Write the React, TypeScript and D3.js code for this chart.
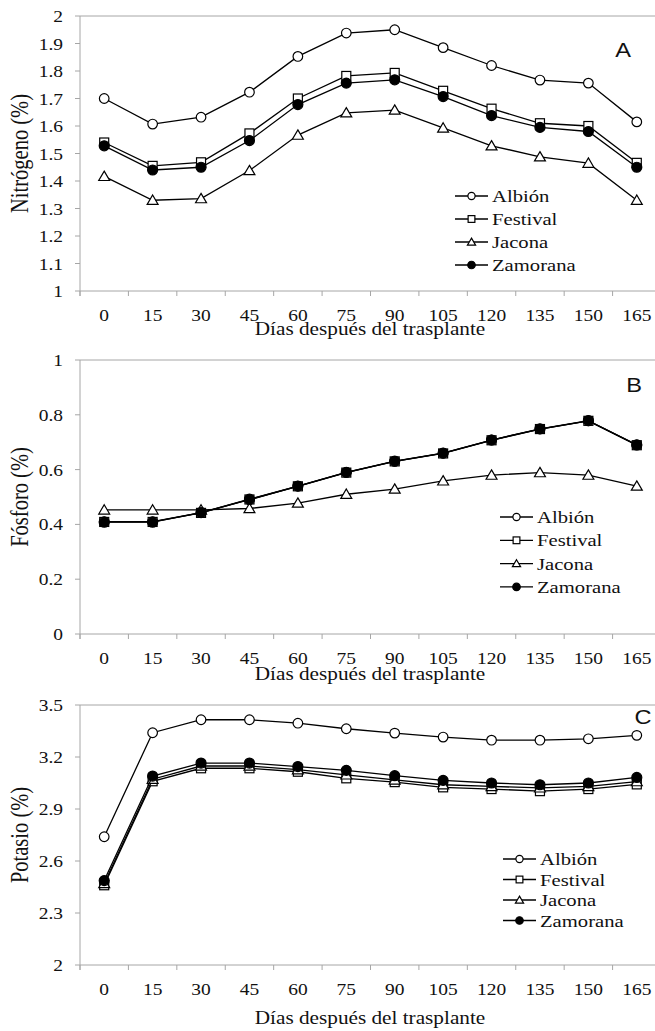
import * as d3 from 'd3'

// días después del trasplante
const dias = ['0', '15', '30', '45', '60', '75', '90', '105', '120', '135', '150', '165']
const variedades = ['Albión', 'Festival', 'Jacona', 'Zamorana']

// Nitrógeno (%)
const nAlbion = [1.7, 1.607, 1.632, 1.723, 1.853, 1.938, 1.95, 1.885, 1.82, 1.767, 1.756, 1.615]
const nFestival = [1.54, 1.455, 1.468, 1.573, 1.7, 1.782, 1.793, 1.728, 1.663, 1.61, 1.6, 1.466]
const nJacona = [1.417, 1.33, 1.336, 1.438, 1.567, 1.648, 1.658, 1.593, 1.528, 1.488, 1.465, 1.33]
const nZamorana = [1.528, 1.44, 1.45, 1.547, 1.678, 1.756, 1.768, 1.707, 1.638, 1.595, 1.58, 1.45]
const nTicks = [1, 1.1, 1.2, 1.3, 1.4, 1.5, 1.6, 1.7, 1.8, 1.9, 2]

// Fósforo (%)
const pAlbion = [0.41, 0.41, 0.443, 0.49, 0.54, 0.59, 0.63, 0.66, 0.708, 0.748, 0.778, 0.69]
const pFestival = [0.409, 0.409, 0.442, 0.491, 0.539, 0.589, 0.63, 0.659, 0.707, 0.748, 0.778, 0.689]
const pJacona = [0.453, 0.453, 0.453, 0.458, 0.478, 0.51, 0.529, 0.559, 0.58, 0.589, 0.58, 0.54]
const pZamorana = [0.408, 0.408, 0.443, 0.492, 0.54, 0.59, 0.631, 0.66, 0.708, 0.749, 0.779, 0.69]
const pTicks = [0, 0.2, 0.4, 0.6, 0.8, 1]

// Potasio (%)
const kAlbion = [2.74, 3.34, 3.415, 3.415, 3.395, 3.363, 3.338, 3.315, 3.297, 3.297, 3.305, 3.325]
const kFestival = [2.46, 3.06, 3.135, 3.135, 3.115, 3.077, 3.055, 3.025, 3.015, 3.003, 3.015, 3.042]
const kJacona = [2.47, 3.072, 3.148, 3.148, 3.127, 3.097, 3.068, 3.04, 3.03, 3.022, 3.03, 3.058]
const kZamorana = [2.487, 3.09, 3.165, 3.165, 3.145, 3.123, 3.092, 3.065, 3.05, 3.04, 3.05, 3.082]
const kTicks = [2, 2.3, 2.6, 2.9, 3.2, 3.5]

const SERIF = '"Liberation Serif", "Times New Roman", serif'
const SX = 1.18 // the original figure is a bit stretched sideways
const AXIS = '#a6a6a6'

function SText({ x, y, size, anchor = 'start', font = SERIF, children }: any) {
  return (
    <text
      transform={`translate(${x},${y}) scale(${SX},1)`}
      fontSize={size}
      fontFamily={font}
      textAnchor={anchor}
      fill="#111"
    >
      {children}
    </text>
  )
}

function Marker({ kind, x, y, s = 1 }: any) {
  const st = { stroke: '#000', strokeWidth: 1.2 }
  if (kind === 0) return <circle cx={x} cy={y} r={4.8 * s} fill="#fff" {...st} />
  if (kind === 1) return <rect x={x - 4.5 * s} y={y - 4.5 * s} width={9 * s} height={9 * s} fill="#fff" {...st} />
  if (kind === 2) {
    const h = 5.2 * s
    return <path d={`M${x},${y - h}L${x + h * 1.05},${y + h * 0.8}L${x - h * 1.05},${y + h * 0.8}Z`} fill="#fff" {...st} />
  }
  return <circle cx={x} cy={y} r={5 * s} fill="#000" {...st} />
}

function Panel({ series, ticks, domain, top, bottom, yTitle, titleY, letter, letterPos, legendX, legendY, legendGap }: any) {
  const x = d3.scaleBand().domain(dias).range([80, 661])
  const y = d3.scaleLinear().domain(domain).range([bottom, top])
  const cx = (i: number) => x(dias[i])! + x.bandwidth() / 2
  const line = d3.line<number>().x((_, i) => cx(i)).y(d => y(d))
  const bounds = [...dias.map(d => x(d)!), 661]
  return (
    <g>
      {/* axes */}
      <line x1={80} x2={655} y1={top} y2={top} stroke={AXIS} />
      <line x1={80} x2={80} y1={top} y2={bottom + 5} stroke={AXIS} />
      <line x1={80} x2={661} y1={bottom} y2={bottom} stroke={AXIS} />
      {ticks.map((t: number) => (
        <g key={t}>
          <line x1={75} x2={80} y1={y(t)} y2={y(t)} stroke={AXIS} />
          <SText x={63} y={y(t) + 6} size={16.5} anchor="end">{String(t)}</SText>
        </g>
      ))}
      {bounds.map((b, i) => (
        <line key={i} x1={b} x2={b} y1={bottom} y2={bottom + 5} stroke={AXIS} />
      ))}
      {dias.map((d, i) => (
        <SText key={d} x={cx(i)} y={bottom + 30} size={16.5} anchor="middle">{d}</SText>
      ))}
      <SText x={370} y={titleY} size={18} anchor="middle">Días después del trasplante</SText>
      <text
        transform={`translate(28,${(top + bottom) / 2}) scale(${SX},1) rotate(-90)`}
        fontSize={20.5}
        fontFamily={SERIF}
        textAnchor="middle"
        fill="#111"
      >
        {yTitle}
      </text>
      <SText x={letterPos[0]} y={letterPos[1]} size={20} anchor="middle" font='"Liberation Sans", Arial, sans-serif'>{letter}</SText>

      {/* series */}
      {series.map((vals: number[], k: number) => (
        <g key={k}>
          <path d={line(vals)!} fill="none" stroke="#000" strokeWidth={1.3} />
          {vals.map((v, i) => (
            <Marker key={i} kind={k} x={cx(i)} y={y(v)} />
          ))}
        </g>
      ))}

      {/* legend */}
      {variedades.map((name, k) => {
        const ly = legendY + k * legendGap
        return (
          <g key={name}>
            <line x1={legendX} x2={legendX + 33} y1={ly} y2={ly} stroke="#000" strokeWidth={1.3} />
            <Marker kind={k} x={legendX + 16.5} y={ly} s={0.75} />
            <SText x={legendX + 37} y={ly + 6} size={17.5}>{name}</SText>
          </g>
        )
      })}
    </g>
  )
}

export default function App() {
  return (
    <svg width={655} height={1031} style={{ position: 'absolute', left: 0, top: 0, background: '#fff' }}>
      <rect width={655} height={1031} fill="#fff" />
      <Panel
        series={[nAlbion, nFestival, nJacona, nZamorana]}
        ticks={nTicks}
        domain={[1, 2]}
        top={16}
        bottom={291}
        yTitle="Nitrógeno (%)"
        titleY={335}
        letter="A"
        letterPos={[623, 57]}
        legendX={455}
        legendY={196}
        legendGap={23}
      />
      <Panel
        series={[pAlbion, pFestival, pJacona, pZamorana]}
        ticks={pTicks}
        domain={[0, 1]}
        top={360}
        bottom={634}
        yTitle="Fósforo (%)"
        titleY={680}
        letter="B"
        letterPos={[634, 392]}
        legendX={500}
        legendY={517}
        legendGap={23.3}
      />
      <Panel
        series={[kAlbion, kFestival, kJacona, kZamorana]}
        ticks={kTicks}
        domain={[2, 3.5]}
        top={705}
        bottom={965}
        yTitle="Potasio (%)"
        titleY={1024}
        letter="C"
        letterPos={[643, 724]}
        legendX={503}
        legendY={859}
        legendGap={20.5}
      />
    </svg>
  )
}
